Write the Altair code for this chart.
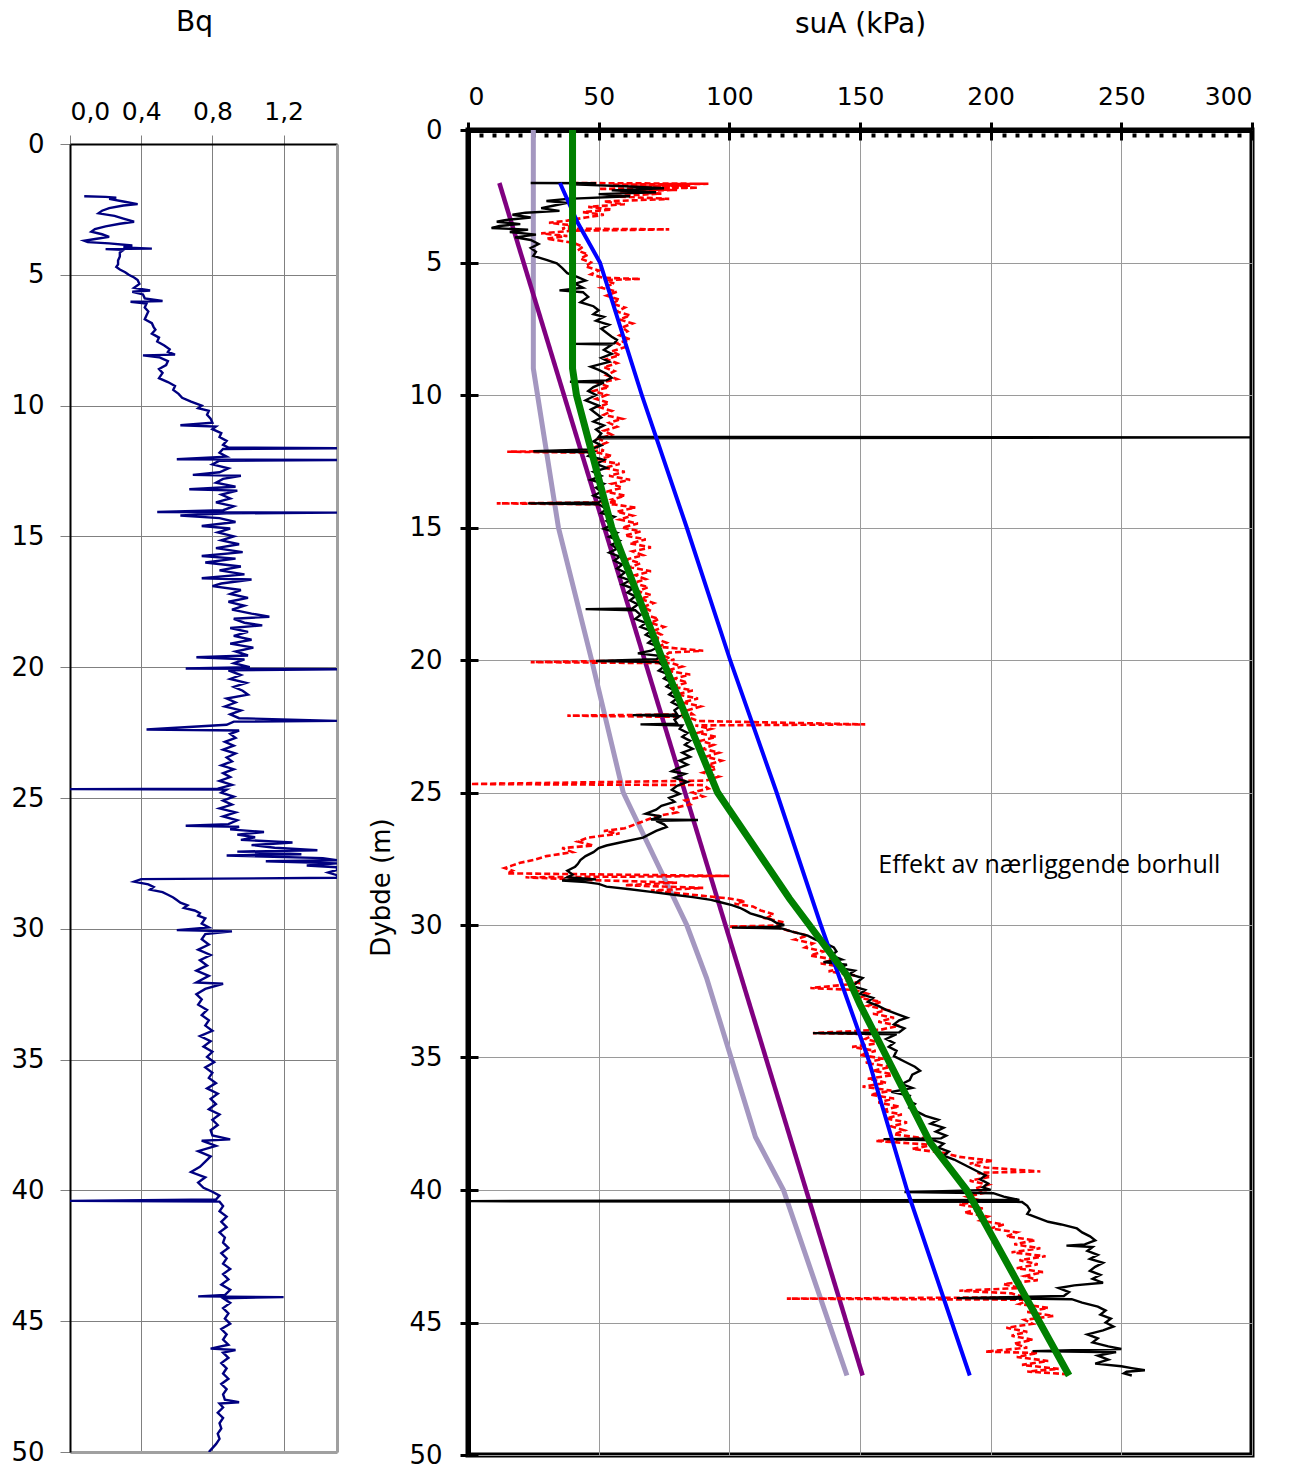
import altair as alt
import pandas as pd

FONT = "DejaVu Sans"

# ---------------- data ----------------
# Bq profile: [depth (m), Bq]
bq_pts = [
[2.00,0.08],[2.02,0.20],[2.05,0.26],[2.10,0.22],[2.20,0.30],[2.30,0.38],[2.35,0.30],[2.45,0.22],[2.55,0.18],[2.65,0.16],
[2.75,0.25],[2.85,0.30],[2.97,0.36],[3.05,0.28],[3.15,0.20],[3.25,0.14],[3.35,0.12],[3.45,0.18],[3.55,0.22],[3.62,0.15],
[3.70,0.08],[3.75,0.10],[3.80,0.22],[3.88,0.35],[3.95,0.30],[4.00,0.46],[4.02,0.20],[4.05,0.30],[4.15,0.28],[4.30,0.28],
[4.45,0.27],[4.60,0.27],[4.70,0.26],[4.80,0.28],[4.90,0.31],[5.00,0.33],[5.10,0.36],[5.20,0.38],[5.35,0.39],[5.50,0.36],
[5.60,0.45],[5.65,0.35],[5.75,0.41],[5.90,0.42],[6.00,0.52],[6.03,0.34],[6.10,0.43],[6.25,0.42],[6.40,0.44],[6.55,0.43],
[6.70,0.42],[6.85,0.46],[7.00,0.47],[7.10,0.48],[7.25,0.46],[7.40,0.50],[7.55,0.49],[7.70,0.53],[7.85,0.56],[7.95,0.55],
[8.05,0.59],[8.08,0.41],[8.15,0.50],[8.30,0.55],[8.45,0.54],[8.60,0.50],[8.75,0.52],[8.95,0.50],[9.10,0.55],[9.25,0.59],
[9.40,0.58],[9.55,0.61],[9.70,0.63],[9.85,0.68],[10.0,0.74],[10.1,0.72],[10.2,0.78],[10.35,0.77],[10.5,0.79],[10.65,0.80],
[10.75,0.62],[10.8,0.82],[10.9,0.80],[11.05,0.85],[11.2,0.84],[11.35,0.88],[11.5,0.86],[11.6,0.89],[11.63,1.5],[11.66,0.86],
[11.8,0.84],[11.95,0.88],[12.05,0.60],[12.08,1.5],[12.11,0.84],[12.25,0.80],[12.4,0.89],[12.55,0.84],[12.65,0.69],[12.68,0.96],
[12.8,0.86],[12.95,0.82],[13.1,0.93],[13.2,0.67],[13.25,0.94],[13.4,0.85],[13.55,0.90],[13.7,0.82],[13.85,0.92],[14.0,0.86],
[14.07,0.49],[14.09,1.5],[14.12,0.88],[14.2,0.62],[14.3,0.84],[14.45,0.93],[14.6,0.74],[14.7,0.90],[14.85,0.83],[15.0,0.92],
[15.15,0.85],[15.3,0.95],[15.45,0.82],[15.6,0.97],[15.75,0.74],[15.85,0.93],[16.0,0.76],[16.15,0.96],[16.3,0.84],[16.45,0.98],
[16.6,0.74],[16.65,1.02],[16.8,0.85],[16.9,0.80],[17.05,0.96],[17.2,0.90],[17.35,1.00],[17.5,0.89],[17.65,0.98],[17.8,0.91],
[17.95,1.02],[18.07,1.12],[18.15,0.92],[18.3,0.98],[18.4,1.08],[18.5,0.90],[18.65,1.00],[18.8,0.92],[18.95,1.02],[19.1,0.90],
[19.25,1.03],[19.4,0.93],[19.55,1.00],[19.62,0.71],[19.7,0.98],[19.85,0.92],[20.0,1.01],[20.05,0.65],[20.08,1.5],[20.12,0.89],
[20.3,0.96],[20.45,0.90],[20.6,0.99],[20.75,0.92],[20.9,0.97],[21.05,1.00],[21.2,0.88],[21.35,0.93],[21.5,0.87],[21.65,0.96],
[21.8,0.90],[21.95,0.95],[22.05,1.5],[22.08,0.92],[22.2,0.88],[22.38,0.43],[22.42,0.95],[22.55,0.90],[22.7,0.93],[22.85,0.87],
[23.0,0.92],[23.15,0.86],[23.3,0.93],[23.45,0.88],[23.6,0.91],[23.75,0.85],[23.9,0.92],[24.05,0.86],[24.2,0.90],[24.35,0.84],
[24.5,0.91],[24.64,0.83],[24.66,0.0],[24.68,0.88],[24.8,0.85],[24.95,0.92],[25.1,0.86],[25.25,0.91],[25.4,0.84],[25.55,0.93],
[25.7,0.86],[25.85,0.94],[26.0,0.89],[26.06,0.65],[26.1,0.95],[26.2,0.90],[26.3,1.09],[26.4,0.94],[26.5,1.04],[26.6,0.96],
[26.7,1.25],[26.8,1.02],[26.9,1.15],[27.0,1.39],[27.05,0.94],[27.15,1.30],[27.2,0.88],[27.3,1.42],[27.38,1.5],[27.42,1.10],
[27.5,1.5],[27.58,1.33],[27.65,1.5],[27.75,1.5],[27.85,1.45],[27.95,1.5],[28.05,1.5],[28.1,0.40],[28.2,0.36],[28.3,0.44],
[28.4,0.47],[28.5,0.45],[28.6,0.52],[28.7,0.55],[28.8,0.58],[28.9,0.60],[29.0,0.62],[29.1,0.66],[29.2,0.64],[29.3,0.70],
[29.4,0.73],[29.5,0.72],[29.6,0.76],[29.8,0.74],[29.95,0.78],[30.05,0.60],[30.1,0.91],[30.2,0.76],[30.4,0.74],[30.6,0.78],
[30.8,0.72],[31.0,0.79],[31.2,0.73],[31.4,0.77],[31.6,0.71],[31.8,0.78],[32.05,0.71],[32.1,0.86],[32.3,0.76],[32.5,0.71],
[32.7,0.74],[32.9,0.72],[33.1,0.77],[33.3,0.74],[33.5,0.78],[33.7,0.76],[33.9,0.80],[34.1,0.73],[34.3,0.79],[34.5,0.75],
[34.7,0.80],[34.9,0.77],[35.1,0.81],[35.3,0.76],[35.5,0.80],[35.7,0.78],[35.9,0.82],[36.1,0.77],[36.3,0.83],[36.5,0.79],
[36.7,0.82],[36.9,0.78],[37.1,0.84],[37.3,0.80],[37.5,0.83],[37.7,0.79],[37.9,0.80],[38.05,0.90],[38.1,0.74],[38.3,0.82],
[38.5,0.72],[38.7,0.79],[38.9,0.76],[39.1,0.73],[39.3,0.68],[39.5,0.76],[39.7,0.72],[39.9,0.75],[40.05,0.80],[40.2,0.84],
[40.35,0.82],[40.4,0.0],[40.43,0.84],[40.6,0.86],[40.8,0.84],[41.0,0.88],[41.2,0.85],[41.4,0.88],[41.6,0.84],[41.8,0.87],
[42.0,0.86],[42.2,0.89],[42.4,0.85],[42.6,0.88],[42.8,0.86],[43.0,0.90],[43.2,0.86],[43.4,0.89],[43.6,0.85],[43.8,0.90],
[44.0,0.87],[44.05,0.72],[44.08,1.20],[44.12,0.86],[44.3,0.90],[44.5,0.86],[44.7,0.89],[44.9,0.87],[45.1,0.90],[45.3,0.85],
[45.5,0.88],[45.7,0.86],[45.9,0.89],[46.05,0.79],[46.1,0.93],[46.2,0.86],[46.4,0.89],[46.6,0.85],[46.8,0.88],[47.0,0.86],
[47.2,0.89],[47.4,0.85],[47.6,0.88],[47.8,0.86],[48.0,0.87],[48.1,0.95],[48.15,0.84],[48.3,0.86],[48.5,0.83],[48.7,0.86],
[48.9,0.84],[49.1,0.85],[49.3,0.83],[49.5,0.84],[49.7,0.82],[49.85,0.80],[50.0,0.78]]

# suA from CPTU (black): [depth, kPa]
black_pts = [
[2.00,24],[2.01,49],[2.05,40],[2.12,60],[2.2,75],[2.28,55],[2.35,72],[2.42,50],[2.5,62],[2.6,38],[2.68,30],[2.75,38],[2.85,33],
[2.95,28],[3.05,35],[3.12,22],[3.2,17],[3.3,24],[3.4,14],[3.46,11],[3.55,20],[3.62,12],[3.7,9],[3.76,23],[3.85,16],[3.95,26],
[4.05,18],[4.15,24],[4.3,27],[4.45,24],[4.6,26],[4.75,25],[4.9,30],[5.03,34],[5.2,36],[5.4,38],[5.55,42],[5.68,45],[5.8,41],
[5.95,44],[6.05,35],[6.12,44],[6.3,46],[6.5,43],[6.65,48],[6.8,50],[6.95,48],[7.05,52],[7.2,49],[7.35,54],[7.5,51],[7.65,53],
[7.8,55],[7.92,57],[8.05,56],[8.07,41],[8.1,55],[8.3,52],[8.45,55],[8.6,51],[8.75,54],[8.93,47],[9.05,50],[9.2,53],[9.35,55],
[9.45,53],[9.5,39],[9.53,52],[9.7,48],[9.85,46],[10.0,49],[10.2,45],[10.4,50],[10.55,47],[10.7,49],[10.85,51],[11.0,48],
[11.15,52],[11.3,49],[11.45,51],[11.58,50],[11.6,300],[11.63,50],[11.75,48],[11.9,51],[12.05,47],[12.12,25],[12.16,48],
[12.3,46],[12.45,52],[12.6,49],[12.75,53],[12.9,48],[13.05,51],[13.2,47],[13.35,52],[13.5,49],[13.65,51],[13.8,48],[13.95,52],
[14.05,50],[14.09,23],[14.12,50],[14.3,53],[14.45,51],[14.6,56],[14.75,53],[14.9,55],[15.05,52],[15.2,57],[15.35,54],[15.5,58],
[15.65,55],[15.8,57],[15.95,54],[16.1,58],[16.25,56],[16.4,59],[16.55,57],[16.7,60],[16.85,58],[17.0,62],[17.15,59],[17.3,63],
[17.45,61],[17.6,64],[17.75,62],[17.9,65],[18.05,63],[18.08,45],[18.12,64],[18.3,66],[18.45,64],[18.6,68],[18.75,66],[18.9,70],
[19.05,68],[19.2,71],[19.35,69],[19.5,73],[19.65,70],[19.75,65],[19.85,74],[19.97,72],[20.04,49],[20.08,73],[20.25,75],[20.4,73],
[20.55,77],[20.7,75],[20.85,78],[21.0,76],[21.15,79],[21.3,77],[21.45,80],[21.6,78],[21.75,81],[21.9,79],[22.05,80],[22.08,63],
[22.12,81],[22.25,79],[22.4,80],[22.43,66],[22.47,82],[22.6,81],[22.75,84],[22.9,82],[23.05,85],[23.2,83],[23.35,86],[23.5,82],
[23.65,85],[23.8,81],[23.95,84],[24.1,80],[24.2,78],[24.3,83],[24.45,79],[24.6,84],[24.75,80],[24.9,78],[25.05,81],[25.2,77],
[25.35,79],[25.5,74],[25.65,72],[25.8,68],[25.9,74],[26.02,70],[26.04,88],[26.07,72],[26.2,75],[26.3,76],[26.45,72],[26.6,69],
[26.7,67],[26.85,60],[27.0,53],[27.1,50],[27.25,48],[27.4,45],[27.55,43],[27.7,42],[27.8,41],[27.95,38],[28.1,40],[28.2,38],
[28.28,49],[28.32,36],[28.38,45],[28.45,50],[28.55,53],[28.65,62],[28.75,70],[28.85,78],[28.95,86],[29.05,93],[29.15,97],
[29.25,101],[29.35,104],[29.45,106],[29.56,108],[29.68,112],[29.8,116],[29.92,118],[30.0,121],[30.08,117],[30.1,101],[30.13,120],
[30.25,124],[30.4,130],[30.55,133],[30.7,137],[30.85,140],[31.0,141],[31.15,139],[31.3,143],[31.4,136],[31.5,145],[31.62,142],
[31.72,148],[31.85,146],[32.0,151],[32.15,149],[32.3,147],[32.45,152],[32.6,150],[32.75,155],[32.9,153],[33.05,157],[33.2,160],
[33.35,164],[33.5,168],[33.6,165],[33.75,163],[33.9,167],[34.05,165],[34.08,132],[34.12,164],[34.3,160],[34.45,163],[34.6,161],
[34.75,164],[34.95,163],[35.15,167],[35.35,171],[35.5,173],[35.65,170],[35.85,169],[36.0,166],[36.15,170],[36.3,162],[36.45,169],
[36.6,168],[36.75,171],[36.9,169],[37.05,172],[37.2,175],[37.35,180],[37.5,177],[37.65,182],[37.8,179],[37.95,183],[38.05,181],
[38.08,159],[38.12,178],[38.25,182],[38.4,180],[38.55,184],[38.7,182],[38.85,186],[39.0,189],[39.15,192],[39.3,195],[39.45,198],
[39.6,196],[39.75,199],[39.9,197],[40.0,200],[40.08,167],[40.12,201],[40.25,205],[40.38,211],[40.42,0],[40.45,212],[40.6,214],
[40.75,215],[40.9,214],[41.05,218],[41.2,222],[41.3,227],[41.45,233],[41.6,235],[41.75,238],[41.9,240],[42.05,236],[42.1,229],
[42.15,239],[42.3,237],[42.45,241],[42.6,238],[42.75,243],[42.9,240],[43.05,238],[43.2,242],[43.35,239],[43.5,243],[43.6,232],
[43.7,226],[43.85,230],[44.0,228],[44.08,187],[44.12,231],[44.25,235],[44.4,241],[44.55,244],[44.7,242],[44.85,246],[45.0,244],
[45.15,247],[45.3,243],[45.45,237],[45.6,241],[45.75,239],[45.9,245],[46.0,250],[46.08,216],[46.12,248],[46.25,241],[46.4,245],
[46.55,240],[46.65,250],[46.72,254],[46.8,259],[46.86,252],[46.92,251],[47.0,254]]

# suA second interpretation (red dashed): [depth, kPa]
red_pts = [
[2.0,40],[2.03,92],[2.06,55],[2.1,85],[2.14,62],[2.18,88],[2.22,50],[2.26,80],[2.32,58],[2.4,74],[2.5,55],[2.6,77],[2.7,52],
[2.8,60],[2.9,46],[3.0,55],[3.1,44],[3.2,52],[3.3,45],[3.42,38],[3.5,31],[3.6,40],[3.72,36],[3.75,77],[3.8,40],[3.9,28],[4.0,38],
[4.1,30],[4.25,40],[4.4,44],[4.55,42],[4.7,46],[4.85,43],[5.0,47],[5.15,45],[5.3,50],[5.45,47],[5.58,52],[5.62,66],[5.66,53],
[5.8,56],[5.95,51],[6.1,57],[6.25,53],[6.4,58],[6.55,55],[6.7,60],[6.85,57],[7.0,62],[7.15,58],[7.3,63],[7.45,59],[7.6,61],
[7.75,58],[7.9,62],[8.05,57],[8.2,60],[8.35,55],[8.5,58],[8.65,53],[8.8,57],[8.95,52],[9.1,56],[9.25,53],[9.4,57],[9.55,50],
[9.7,54],[9.85,48],[10.0,53],[10.15,49],[10.3,54],[10.45,50],[10.6,55],[10.75,52],[10.9,59],[11.05,54],[11.2,57],[11.35,52],
[11.5,55],[11.65,50],[11.8,53],[11.95,49],[12.1,52],[12.14,15],[12.18,50],[12.3,55],[12.45,49],[12.6,58],[12.75,52],[12.9,60],
[13.05,54],[13.2,62],[13.35,55],[13.5,59],[13.65,53],[13.8,60],[13.95,55],[14.05,57],[14.09,11],[14.13,56],[14.25,64],[14.4,57],
[14.55,63],[14.7,58],[14.85,65],[15.0,59],[15.15,66],[15.3,60],[15.45,68],[15.6,62],[15.75,70],[15.9,63],[16.05,67],[16.2,61],
[16.35,66],[16.5,62],[16.65,70],[16.8,64],[16.95,68],[17.1,63],[17.25,69],[17.4,65],[17.55,70],[17.7,66],[17.85,71],[18.0,67],
[18.15,70],[18.3,68],[18.45,73],[18.6,70],[18.75,75],[18.9,71],[19.05,74],[19.2,72],[19.35,76],[19.5,73],[19.65,90],[19.72,77],
[19.85,75],[20.0,79],[20.08,24],[20.12,78],[20.25,82],[20.4,76],[20.55,85],[20.7,79],[20.85,84],[21.0,78],[21.15,86],[21.3,80],
[21.45,88],[21.6,82],[21.75,89],[21.9,84],[22.05,86],[22.1,38],[22.15,84],[22.3,88],[22.43,152],[22.47,87],[22.6,93],[22.75,88],
[22.9,95],[23.05,89],[23.2,94],[23.35,90],[23.5,96],[23.65,91],[23.8,97],[23.95,92],[24.1,95],[24.25,90],[24.4,96],[24.55,91],
[24.68,1],[24.72,90],[24.85,92],[25.0,86],[25.15,90],[25.3,83],[25.45,85],[25.6,78],[25.75,80],[25.9,72],[26.05,68],[26.2,64],
[26.35,60],[26.45,52],[26.55,58],[26.7,46],[26.85,42],[27.0,48],[27.1,36],[27.25,40],[27.4,30],[27.55,25],[27.65,20],[27.75,17],
[27.85,14],[27.95,17],[28.05,15],[28.15,100],[28.2,22],[28.3,46],[28.4,80],[28.5,60],[28.6,90],[28.7,70],[28.85,85],[29.0,100],
[29.1,106],[29.2,102],[29.3,109],[29.45,112],[29.6,117],[29.75,114],[29.9,121],[30.02,118],[30.06,100],[30.1,119],[30.25,124],
[30.4,130],[30.55,125],[30.7,132],[30.85,129],[31.0,136],[31.15,131],[31.3,140],[31.45,135],[31.6,144],[31.75,138],[31.9,148],
[32.05,142],[32.2,150],[32.38,131],[32.45,148],[32.6,153],[32.75,150],[32.9,158],[33.05,153],[33.2,160],[33.35,155],[33.5,163],
[33.65,157],[33.8,165],[33.95,158],[34.08,132],[34.12,156],[34.3,152],[34.45,158],[34.6,147],[34.75,156],[34.9,150],[35.05,159],
[35.2,152],[35.35,162],[35.5,155],[35.65,164],[35.8,153],[35.95,160],[36.1,151],[36.25,162],[36.4,154],[36.55,163],[36.7,157],
[36.85,165],[37.0,158],[37.15,166],[37.3,160],[37.45,168],[37.6,162],[37.75,167],[37.9,163],[38.05,175],[38.15,156],[38.3,178],
[38.45,170],[38.6,182],[38.75,188],[38.9,201],[39.0,192],[39.15,198],[39.3,219],[39.35,195],[39.5,200],[39.65,192],[39.8,199],
[39.95,194],[40.1,198],[40.25,191],[40.4,196],[40.55,188],[40.7,197],[40.85,190],[41.0,199],[41.15,196],[41.3,205],[41.45,200],
[41.6,210],[41.75,206],[41.9,217],[42.05,209],[42.2,219],[42.35,208],[42.5,221],[42.65,211],[42.8,218],[42.95,210],[43.1,220],
[43.25,213],[43.4,218],[43.55,205],[43.7,211],[43.8,188],[43.9,208],[44.05,213],[44.1,122],[44.14,215],[44.3,211],[44.45,222],
[44.6,214],[44.75,224],[44.9,213],[45.05,216],[45.2,206],[45.35,214],[45.5,208],[45.65,216],[45.8,209],[45.95,214],[46.1,198],
[46.15,218],[46.3,210],[46.45,222],[46.6,212],[46.75,226],[46.85,214],[46.95,229]]

# Design lines
blue_depth = [2, 3.5, 5, 10, 15, 20, 25, 30, 35, 40, 47]
blue_val = [35.2, 42, 50.5, 66.5, 83.7, 100.3, 118.1, 135, 153, 168, 192]
green_depth = [0, 9, 10, 15, 20, 25, 29, 31.9, 33, 38.2, 40, 47]
green_val = [40, 40, 41.5, 55, 74.5, 95.5, 123, 145, 150, 176.8, 190.8, 230]
purple_depth = [2, 47]
purple_val = [12, 151]
lav_depth = [0, 9, 15, 20, 25, 30, 32, 38, 40, 47]
lav_val = [25, 25, 34.6, 47.3, 59.4, 83.7, 91.3, 110, 120.7, 145]

note_text = ["Effekt av nærliggende borhull"]
note_x = [157]
note_d = [27.75]

bq_ticks = [0, 0.4, 0.8, 1.2]
su_ticks = [0, 50, 100, 150, 200, 250, 300]
su_minor = [v for v in range(5, 300, 5) if v % 50 != 0]
depth_ticks = list(range(0, 51, 5))
bq_corner = [[50, 1.5]]


def pts_frame(pts):
    return pd.DataFrame({"d": [p[0] for p in pts], "v": [p[1] for p in pts], "i": list(range(len(pts)))})


def xy_frame(depths, vals):
    return pd.DataFrame({"d": depths, "v": vals, "i": list(range(len(depths)))})


# ---------------- left panel: Bq ----------------
# the Bq frame sits 14 px lower than the suA frame: its depth scale starts 14 px down
L_TOP = 14
L_H = 1308
bq_ys = alt.Scale(domain=[0, 50], range=[L_TOP, L_TOP + L_H], nice=False, zero=False)
bq_xs = alt.Scale(domain=[0, 1.5], nice=False, zero=False)

bq_y = alt.Y("d:Q", scale=bq_ys,
             axis=alt.Axis(values=depth_ticks, title=None, labelFont=FONT, labelFontSize=26,
                           labelColor="black", labelPadding=16, tickSize=10, tickColor="#808080",
                           tickWidth=1, domainColor="black", domainWidth=2, gridColor="#808080",
                           gridWidth=1))
bq_x = alt.X("v:Q", scale=bq_xs,
             axis=alt.Axis(orient="top", offset=-L_TOP, values=bq_ticks, title="Bq", titleFont=FONT,
                           titleFontSize=28, titleFontWeight="normal", titleColor="black",
                           titlePadding=63, titleX=124,
                           labelExpr="replace(format(datum.value, '.1f'), '.', ',')",
                           labelFont=FONT, labelFontSize=25, labelColor="black", labelPadding=11,
                           tickSize=9, tickColor="#808080", tickWidth=1, domainColor="black",
                           domainWidth=2, gridColor="#808080", gridWidth=1))
bq_right = alt.Y("d:Q", scale=bq_ys, axis=alt.Axis(
    orient="right", title=None, labels=False, ticks=False, grid=False, domainColor="#a0a0a0",
    domainWidth=3))
bq_bottom = alt.X("v:Q", scale=bq_xs, axis=alt.Axis(
    orient="bottom", title=None, labels=False, ticks=False, grid=False, domainColor="#a0a0a0",
    domainWidth=3))

bq_line = alt.Chart(pts_frame(bq_pts)).mark_line(color="#000080", strokeWidth=2.4, clip=True).encode(
    x=bq_x, y=bq_y, order=alt.Order("i:Q"))
bq_frame = alt.Chart(pts_frame(bq_corner)).mark_point(opacity=0).encode(x=bq_bottom, y=bq_right)

left = alt.layer(bq_line, bq_frame).resolve_axis(x="independent", y="independent").properties(
    width=267, height=L_TOP + L_H,
    view=alt.ViewBackground(stroke="transparent", strokeWidth=0),
)

# ---------------- right panel: suA ----------------
xs = alt.Scale(domain=[0, 300], nice=False, zero=False)
ys = alt.Scale(domain=[0, 50], reverse=True, nice=False, zero=False)

x_main = alt.X("v:Q", scale=xs, axis=alt.Axis(
    orient="top", values=su_ticks, title="suA (kPa)", titleFont=FONT, titleFontSize=28,
    titleFontWeight="normal", titleColor="black", titlePadding=46,
    labelFont=FONT, labelFontSize=25, labelColor="black",
    labelPadding=13, tickSize=8, tickWidth=3, tickColor="black", domainColor="black", domainWidth=5,
    gridColor="#9a9a9a", gridWidth=1))
y_main = alt.Y("d:Q", scale=ys, axis=alt.Axis(
    values=depth_ticks, title="Dybde (m)", titleFont=FONT, titleFontSize=26, titleFontWeight="normal",
    titleAngle=270, titleX=-79, titleY=757, titleAlign="center", titleBaseline="alphabetic",
    labelFont=FONT, labelFontSize=26, labelColor="black", labelPadding=18, tickSize=8, tickWidth=3,
    tickColor="black", domainColor="black", domainWidth=5, gridColor="#9a9a9a", gridWidth=1))
x_minor = alt.X("v:Q", scale=xs, axis=alt.Axis(
    orient="top", values=su_minor, title=None, labels=False, domain=False, grid=False,
    tickSize=4, tickWidth=4, tickColor="black", offset=-7))
x_cross = alt.X("v:Q", scale=xs, axis=alt.Axis(
    orient="top", values=su_ticks, title=None, labels=False, domain=False, grid=False,
    tickSize=10, tickWidth=3, tickColor="black", offset=-10))
y_cross = alt.Y("d:Q", scale=ys, axis=alt.Axis(
    orient="left", values=depth_ticks, title=None, labels=False, domain=False, grid=False,
    tickSize=10, tickWidth=3, tickColor="black", offset=-10))
x_none = alt.X("v:Q", scale=xs, axis=None)
y_none = alt.Y("d:Q", scale=ys, axis=None)

lav = alt.Chart(xy_frame(lav_depth, lav_val)).mark_line(color="#a497c0", strokeWidth=5).encode(
    x=x_main, y=y_main, order=alt.Order("i:Q"))
pur = alt.Chart(xy_frame(purple_depth, purple_val)).mark_line(color="#800080", strokeWidth=4.5).encode(
    x=x_minor, y=y_cross, order=alt.Order("i:Q"))
red = alt.Chart(pts_frame(red_pts)).mark_line(color="#ff0000", strokeWidth=2.6, strokeDash=[6, 3], clip=True).encode(
    x=x_cross, y=y_none, order=alt.Order("i:Q"))
blk = alt.Chart(pts_frame(black_pts)).mark_line(color="black", strokeWidth=2.4, clip=True).encode(
    x=x_none, y=y_none, order=alt.Order("i:Q"))
blu = alt.Chart(xy_frame(blue_depth, blue_val)).mark_line(color="#0000ff", strokeWidth=4).encode(
    x=x_none, y=y_none, order=alt.Order("i:Q"))
grn = alt.Chart(xy_frame(green_depth, green_val)).mark_line(color="#008000", strokeWidth=7).encode(
    x=x_none, y=y_none, order=alt.Order("i:Q"))
note = alt.Chart(pd.DataFrame({"v": note_x, "d": note_d, "t": note_text})).mark_text(
    align="left", baseline="middle", font="Open Sans", fontSize=25, color="black").encode(
    x=x_none, y=y_none, text="t:N")

right = alt.layer(lav, pur, red, blk, blu, grn, note).resolve_axis(x="independent", y="independent").properties(
    width=784, height=1325,
    view=alt.ViewBackground(stroke="black", strokeWidth=5),
)

chart = alt.concat(left, right, columns=2, align="none", spacing=25).properties(
    padding={"left": 10, "top": 7, "right": 0, "bottom": 0},
    background="white",
).configure_view(fill="white")

chart.save("out.html", embed_options={"renderer": "svg", "actions": False})
